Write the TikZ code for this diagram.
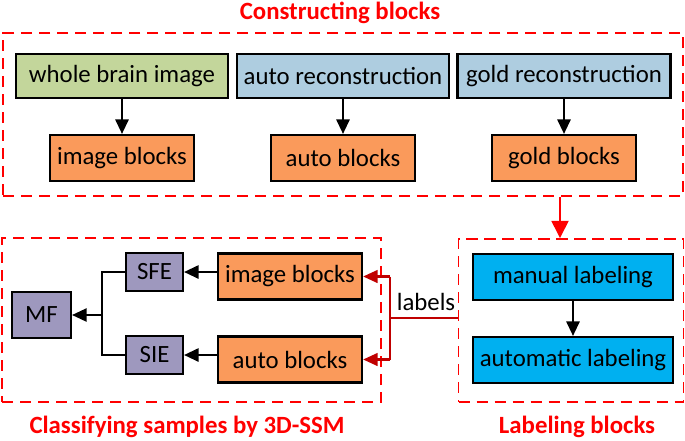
\documentclass[tikz,border=0pt]{standalone}
\usepackage{fontspec}
\setmainfont{Carlito}
\usetikzlibrary{arrows.meta,calc}
\definecolor{cgreen}{HTML}{C3D69B}
\definecolor{cblue}{HTML}{AECDE0}
\definecolor{corange}{HTML}{FA9A5B}
\definecolor{cpurple}{HTML}{9E98BE}
\definecolor{ccyan}{HTML}{00B0F0}
\definecolor{cdred}{HTML}{C00000}
\definecolor{cred}{HTML}{FF0000}
\begin{document}
\begin{tikzpicture}[x=0.75pt,y=-0.75pt,
  box/.style={draw=black,line width=1.6pt,rectangle,inner sep=0pt,font=\fontsize{18.6}{20}\selectfont,text=black},
  group/.style={draw=cred,line width=1.2pt,dash pattern=on 8.5pt off 5pt,rectangle,inner sep=0pt},
  title/.style={text=cred,font=\fontsize{18.6}{20}\selectfont\bfseries},
  blk/.style={line width=1.6pt,-{Triangle[length=11pt,width=10pt]}},
  thin/.style={line width=0.9pt},
  lbl/.style={draw=cdred,line width=1.9pt},
  lblarr/.style={lbl,-{Triangle[length=11pt,width=9.5pt]}}
]
\useasboundingbox (0,0) rectangle (685,440);
% groups
\node[group,minimum width=680*0.75pt,minimum height=163*0.75pt] (gtop) at (343,114.5) {};
\node[group,minimum width=379*0.75pt,minimum height=164*0.75pt] (gleft) at (191.5,320) {};
\node[group,minimum width=225*0.75pt,minimum height=163*0.75pt] (gright) at (571,320.5) {};
% titles
\node[title] (t1) at (340,13) {Constructing blocks};
\node[title] (t2) at (187,427) {Classifying samples by 3D-SSM};
\node[title] (t3) at (577,427) {Labeling blocks};
% top row
\node[box,fill=cgreen,minimum width=212*0.75pt,minimum height=44*0.75pt] (wbi) at (122,76) {whole brain image};
\node[box,fill=cblue,minimum width=212*0.75pt,minimum height=44*0.75pt] (arec) at (343,76) {auto reconstruction};
\node[box,fill=cblue,minimum width=213*0.75pt,minimum height=44*0.75pt] (grec) at (564,76) {gold reconstruction};
\node[box,fill=corange,minimum width=144*0.75pt,minimum height=46*0.75pt] (ib1) at (122,158) {image blocks};
\node[box,fill=corange,minimum width=144*0.75pt,minimum height=46*0.75pt] (ab1) at (343,158) {auto blocks};
\node[box,fill=corange,minimum width=144*0.75pt,minimum height=46*0.75pt] (gb1) at (564,158) {gold blocks};
\draw[blk] (wbi) -- (ib1);
\draw[blk] (arec) -- (ab1);
\draw[blk] (grec) -- (gb1);
% bottom left
\node[box,fill=corange,minimum width=144*0.75pt,minimum height=46*0.75pt] (ib2) at (290,276.5) {image blocks};
\node[box,fill=corange,minimum width=144*0.75pt,minimum height=46*0.75pt] (ab2) at (290,359.5) {auto blocks};
\node[box,fill=cpurple,minimum width=57*0.75pt,minimum height=38*0.75pt] (sfe) at (154.5,272) {SFE};
\node[box,fill=cpurple,minimum width=57*0.75pt,minimum height=38*0.75pt] (sie) at (154.5,355) {SIE};
\node[box,fill=cpurple,minimum width=59*0.75pt,minimum height=46*0.75pt] (mf) at (41.5,315) {MF};
\draw[blk] (ib2.west |- sfe) -- (sfe);
\draw[blk] (ab2.west |- sie) -- (sie);
\coordinate (tj) at (102,315);
\draw[thin] (sfe.west) -| (tj) |- (sie.west);
\draw[blk,line width=1.2pt] (tj) -- (mf);
% bottom right
\node[box,fill=ccyan,minimum width=200*0.75pt,minimum height=46*0.75pt] (ml) at (573,277) {manual labeling};
\node[box,fill=ccyan,minimum width=200*0.75pt,minimum height=46*0.75pt] (al) at (573,360) {automatic labeling};
\draw[blk] (ml) -- (al);
% red arrow between groups
\coordinate (ra) at (560,196.5);
\draw[draw=cred,line width=2.2pt,-{Triangle[length=13pt,width=12.5pt]}] (ra) -- (ra |- gright.north);
% labels connector
\coordinate (lj) at (390,318);
\draw[lbl] (gright.west |- lj) -- (lj);
\draw[lbl] (lj |- ib2) -- (lj |- ab2);
\draw[lblarr] (lj |- ib2) -- (ib2.east);
\draw[lblarr] (lj |- ab2) -- (ab2.east);
\node[font=\fontsize{18.6}{20}\selectfont,anchor=base] (lbltxt) at (426,310) {labels};
\end{tikzpicture}
\end{document}
